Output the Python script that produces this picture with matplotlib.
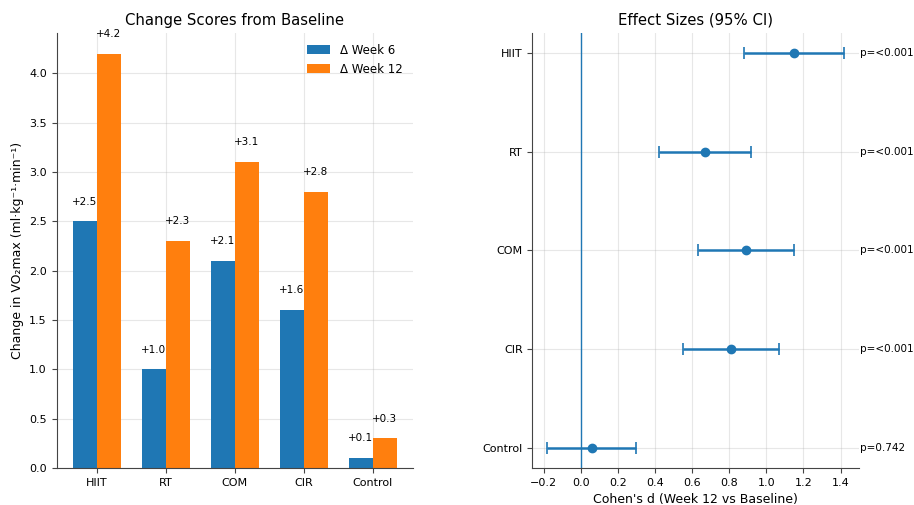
import matplotlib
matplotlib.use("Agg")
import matplotlib.pyplot as plt
import numpy as np

groups = ["HIIT", "RT", "COM", "CIR", "Control"]
week6 = [2.5, 1.0, 2.1, 1.6, 0.1]
week12 = [4.2, 2.3, 3.1, 2.8, 0.3]

effect_d = [1.15, 0.67, 0.89, 0.81, 0.06]
ci_low = [0.88, 0.42, 0.63, 0.55, -0.18]
ci_high = [1.42, 0.92, 1.15, 1.07, 0.30]
p_labels = ["p=<0.001", "p=<0.001", "p=<0.001", "p=<0.001", "p=0.742"]

blue = "#1f77b4"
orange = "#ff7f0e"

fig = plt.figure(figsize=(9.14, 5.05), dpi=100)
ax1 = fig.add_axes([0.0620, 0.0733, 0.3900, 0.8614])
ax2 = fig.add_axes([0.5825, 0.0733, 0.3575, 0.8614])

x = np.arange(len(groups))
w = 0.35
ax1.bar(x - w / 2, week6, w, color=blue, label="Δ Week 6")
ax1.bar(x + w / 2, week12, w, color=orange, label="Δ Week 12")
for xi, v in zip(x - w / 2, week6):
    ax1.text(xi, v + 0.15, f"+{v:.1f}", ha="center", va="bottom", fontsize=7.5)
for xi, v in zip(x + w / 2, week12):
    ax1.text(xi, v + 0.15, f"+{v:.1f}", ha="center", va="bottom", fontsize=7.5)
ax1.set_xticks(x)
ax1.set_xticklabels(groups)
ax1.set_ylabel("Change in VO₂max (ml·kg⁻¹·min⁻¹)", fontsize=9)
ax1.set_title("Change Scores from Baseline", fontsize=10.7)
ax1.legend(frameon=False, fontsize=8.5, loc="upper right")
ax1.grid(True, alpha=0.3)
ax1.set_axisbelow(True)
ax1.set_ylim(0, 4.41)
ax1.set_yticks(np.arange(0, 4.01, 0.5))
ax1.tick_params(labelsize=8)

y = np.arange(len(groups))
d = np.array(effect_d)
err = [d - np.array(ci_low), np.array(ci_high) - d]
ax2.errorbar(d, y, xerr=err, fmt="o", color=blue, capsize=4, lw=1.8, ms=6, capthick=1.2)
ax2.axvline(0, color=blue, lw=1)
for yi, p in zip(y, p_labels):
    ax2.text(1.003, yi, p, transform=ax2.get_yaxis_transform(), ha="left", va="center", fontsize=7.5)
ax2.set_yticks(y)
ax2.set_yticklabels(groups)
ax2.set_ylim(4.2, -0.2)
ax2.set_xticks(np.arange(-0.2, 1.41, 0.2))
ax2.set_xlabel("Cohen's d (Week 12 vs Baseline)", fontsize=9)
ax2.set_title("Effect Sizes (95% CI)", fontsize=10.7)
ax2.grid(True, alpha=0.3)
ax2.set_axisbelow(True)
ax2.tick_params(labelsize=8)

for ax in (ax1, ax2):
    ax.spines["top"].set_visible(False)
    ax.spines["right"].set_visible(False)
    for s in ("left", "bottom"):
        ax.spines[s].set_color("#444444")
    ax.tick_params(color="#444444")

fig.savefig("out.png", dpi=100)
